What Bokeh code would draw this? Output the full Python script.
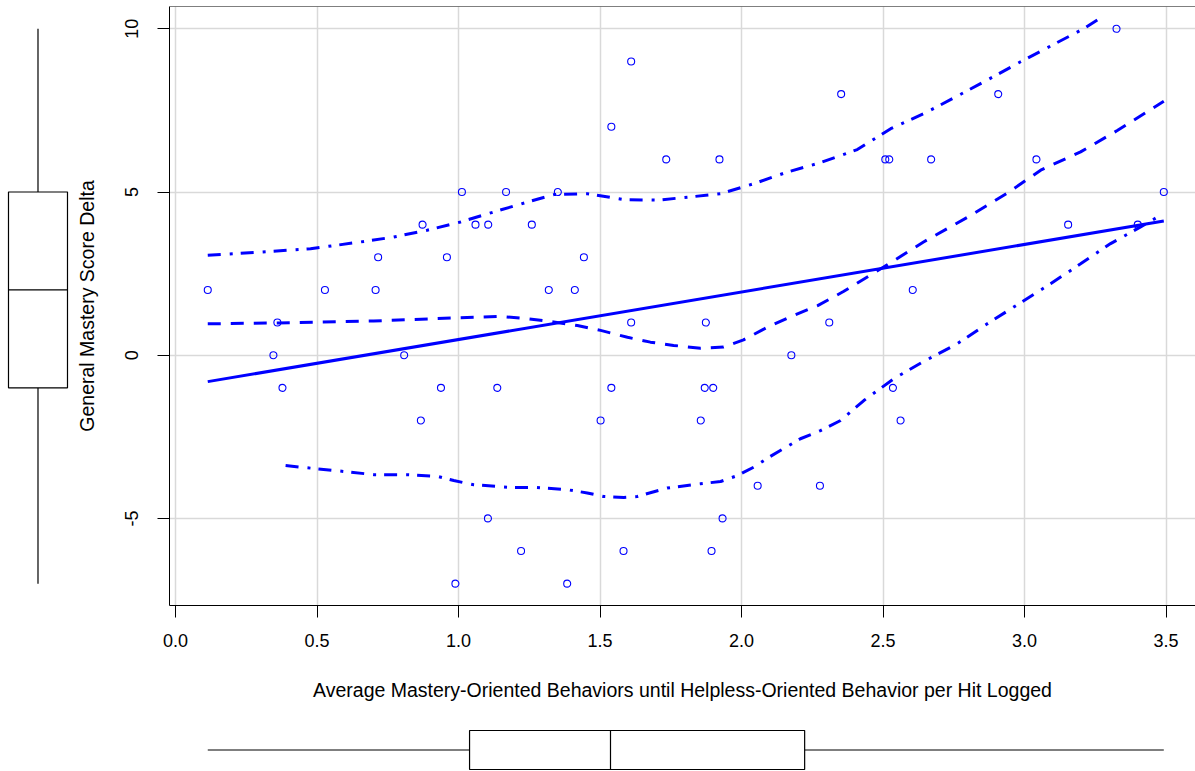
from bokeh.plotting import figure
from bokeh.layouts import row, column
from bokeh.models import Range1d, FixedTicker, NumeralTickFormatter, Span
from bokeh.embed import file_html
from bokeh.resources import INLINE

# ---------------- data ----------------
pts_x = [3.325, 1.610, 2.352, 2.907, 1.540,
         1.734, 1.922, 2.508, 2.522, 2.670, 3.042,
         1.012, 1.168, 1.351, 3.492,
         0.873, 1.060, 1.105, 1.259, 3.154, 3.400,
         0.716, 0.959, 1.443,
         0.114, 0.528, 0.707, 1.319, 1.411, 2.605,
         0.360, 1.610, 1.874, 2.310,
         0.346, 0.808, 2.176,
         0.378, 0.938, 1.137, 1.540, 1.870, 1.900, 2.535,
         0.867, 1.502, 1.856, 2.562,
         2.057, 2.277,
         1.104, 1.933,
         1.221, 1.583, 1.894,
         0.989, 1.384]
pts_y = [10, 9, 8, 8, 7,
         6, 6, 6, 6, 6, 6,
         5, 5, 5, 5,
         4, 4, 4, 4, 4, 4,
         3, 3, 3,
         2, 2, 2, 2, 2, 2,
         1, 1, 1, 1,
         0, 0, 0,
         -1, -1, -1, -1, -1, -1, -1,
         -2, -2, -2, -2,
         -4, -4,
         -5, -5,
         -6, -6, -6,
         -7, -7]

# linear fit line (end points)
fit_x = [0.114, 3.492]
fit_y = [-0.81, 4.11]

# smoother (dashed)
smooth_x = [0.114, 0.360, 0.700, 1.007, 1.148, 1.243, 1.336, 1.420, 1.502, 1.597,
            1.678, 1.760, 1.855, 1.936, 2.007, 2.092, 2.184, 2.269, 2.360, 2.502,
            2.643, 2.799, 2.940, 3.057, 3.198, 3.329, 3.492]
smooth_y = [0.96, 0.99, 1.05, 1.15, 1.19, 1.12, 1.02, 0.91, 0.76, 0.55,
            0.40, 0.30, 0.21, 0.25, 0.47, 0.86, 1.22, 1.52, 1.95, 2.70,
            3.47, 4.23, 4.97, 5.67, 6.23, 6.89, 7.78]

# upper spread (dot-dash)
upper_x = [0.114, 0.300, 0.477, 0.654, 0.771, 0.889, 1.007, 1.125, 1.243, 1.337,
           1.455, 1.584, 1.702, 1.820, 1.926, 2.042, 2.161, 2.279, 2.409, 2.527,
           2.644, 2.756, 2.868, 2.986, 3.098, 3.210, 3.269]
upper_y = [3.06, 3.16, 3.26, 3.47, 3.62, 3.83, 4.08, 4.39, 4.69, 4.92,
           4.95, 4.77, 4.75, 4.85, 4.95, 5.25, 5.61, 5.90, 6.30, 6.94,
           7.40, 7.91, 8.43, 8.99, 9.50, 10.01, 10.34]

# lower spread (dot-dash)
lower_x = [0.389, 0.442, 0.571, 0.701, 0.819, 0.925, 0.983, 1.054, 1.184, 1.266,
           1.384, 1.455, 1.513, 1.584, 1.631, 1.737, 1.855, 1.926, 1.985, 2.043,
           2.102, 2.208, 2.279, 2.350, 2.432, 2.538, 2.644, 2.762, 2.868, 2.986,
           3.092, 3.198, 3.304, 3.410, 3.481]
lower_y = [-3.38, -3.43, -3.54, -3.66, -3.66, -3.71, -3.84, -3.97, -4.05, -4.05,
           -4.12, -4.22, -4.33, -4.36, -4.33, -4.07, -3.94, -3.87, -3.69, -3.43,
           -3.10, -2.56, -2.31, -2.00, -1.39, -0.72, -0.19, 0.35, 0.96, 1.61,
           2.19, 2.80, 3.42, 3.93, 4.29]

# box plot statistics: [whisker low, Q1, median, Q3, whisker high]
xbox = [0.114, 1.039, 1.537, 2.223, 3.492]
ybox = [-7, -1, 2, 5, 10]

x_ticks = [0.0, 0.5, 1.0, 1.5, 2.0, 2.5, 3.0, 3.5]
y_ticks = [-5, 0, 5, 10]
y_tick_labels = ["-5", "0", "5", "10"]

x_title = "Average Mastery-Oriented Behaviors until Helpless-Oriented Behavior per Hit Logged"
y_title = "General Mastery Score Delta"

# ---------------- styling ----------------
FONT = "Liberation Sans"
BLUE = "#0000FF"
GRID = "#D9D9D9"

x_range = Range1d(-0.0212, 3.604)
y_range = Range1d(-7.669, 10.684)

LEFT_W = 69
MAIN_W = 1126
MAIN_BL = 100
TOP_B = 6
FRAME_H = 599
BOTTOM_B = 110

main = figure(width=MAIN_W, height=TOP_B + FRAME_H + BOTTOM_B, x_range=x_range, y_range=y_range,
              output_backend="svg", toolbar_location=None,
              min_border_left=MAIN_BL, min_border_right=0, min_border_top=TOP_B,
              min_border_bottom=BOTTOM_B)
main.outline_line_color = None
main.background_fill_color = "white"
main.border_fill_color = "white"

for ax in (main.xaxis[0], main.yaxis[0]):
    ax.axis_line_color = "black"
    ax.axis_line_width = 1
    ax.major_tick_line_color = "black"
    ax.major_tick_out = 12
    ax.major_tick_in = 0
    ax.minor_tick_line_color = None
    ax.major_label_text_font = FONT
    ax.major_label_text_font_size = "18px"
    ax.major_label_text_color = "black"
    ax.axis_label_text_font = FONT
    ax.axis_label_text_font_size = "19.5px"
    ax.axis_label_text_font_style = "normal"
    ax.axis_label_text_color = "black"

main.xaxis.ticker = FixedTicker(ticks=x_ticks)
main.xaxis.formatter = NumeralTickFormatter(format="0.0")
main.xaxis.major_label_standoff = 16
main.xaxis.axis_label = x_title
main.xaxis.axis_label_standoff = 29

main.yaxis.ticker = FixedTicker(ticks=y_ticks)
main.yaxis.major_label_overrides = {t: s for t, s in zip(y_ticks, y_tick_labels)}
main.yaxis.major_label_orientation = "vertical"
main.yaxis.major_label_standoff = 19
main.yaxis.axis_label = y_title
main.yaxis.axis_label_standoff = 25

main.grid.grid_line_color = GRID
main.grid.grid_line_width = 1.5

main.add_layout(Span(location=y_range.end, dimension="width", line_color="black", line_width=1))

main.line(fit_x, fit_y, line_color=BLUE, line_width=3)
main.line(smooth_x, smooth_y, line_color=BLUE, line_width=3, line_dash="13 10")
main.line(upper_x, upper_y, line_color=BLUE, line_width=3, line_dash="13 9 3 8")
main.line(lower_x, lower_y, line_color=BLUE, line_width=3, line_dash="13 9 3 8")
main.scatter(pts_x, pts_y, marker="circle", size=7, fill_color=None,
             line_color=BLUE, line_width=1.1)

# ---------------- left (y) box plot ----------------
left = figure(width=LEFT_W, height=TOP_B + FRAME_H + BOTTOM_B, x_range=Range1d(-1.271, 1.068),
              y_range=y_range, output_backend="svg", toolbar_location=None,
              x_axis_location=None, y_axis_location=None,
              min_border_left=0, min_border_right=0, min_border_top=TOP_B,
              min_border_bottom=BOTTOM_B)
left.outline_line_color = None
left.grid.visible = False
left.segment(x0=[0, 0], y0=[ybox[0], ybox[3]], x1=[0, 0], y1=[ybox[1], ybox[4]],
             line_color="black", line_width=1.2)
left.quad(left=[-1], right=[1], bottom=[ybox[1]], top=[ybox[3]],
          fill_color="white", line_color="black", line_width=1.2)
left.segment(x0=[-1], y0=[ybox[2]], x1=[1], y1=[ybox[2]], line_color="black", line_width=1.2)

# ---------------- bottom (x) box plot ----------------
bottom = figure(width=LEFT_W + MAIN_W, height=56, x_range=x_range, y_range=Range1d(-1.103, 1.769),
                output_backend="svg", toolbar_location=None,
                x_axis_location=None, y_axis_location=None,
                min_border_left=LEFT_W + MAIN_BL, min_border_right=0, min_border_top=0,
                min_border_bottom=0)
bottom.outline_line_color = None
bottom.grid.visible = False
bottom.segment(x0=[xbox[0], xbox[3]], y0=[0, 0], x1=[xbox[1], xbox[4]], y1=[0, 0],
               line_color="black", line_width=1.2)
bottom.quad(left=[xbox[1]], right=[xbox[3]], bottom=[-1], top=[1],
            fill_color="white", line_color="black", line_width=1.2)
bottom.segment(x0=[xbox[2]], y0=[-1], x1=[xbox[2]], y1=[1], line_color="black", line_width=1.2)

layout = column(row(left, main), bottom)

open("out.html", "w").write(file_html(layout, INLINE))
